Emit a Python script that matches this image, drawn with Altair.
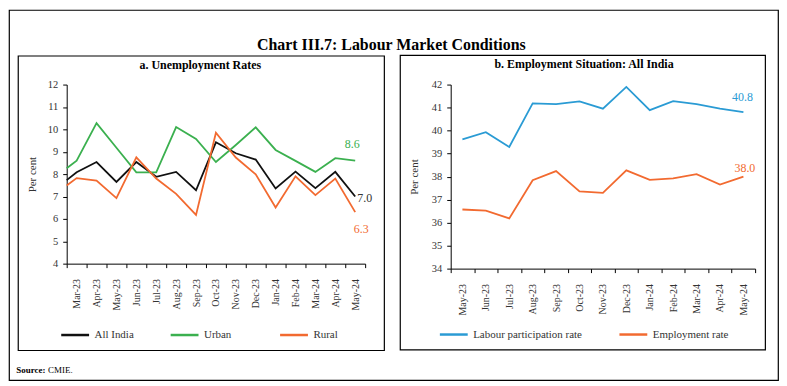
import altair as alt
import pandas as pd

# ---------------- data ----------------
months_a = ["Mar-23", "Apr-23", "May-23", "Jun-23", "Jul-23", "Aug-23", "Sep-23", "Oct-23",
            "Nov-23", "Dec-23", "Jan-24", "Feb-24", "Mar-24", "Apr-24", "May-24"]
series_a = ["All India", "Urban", "Rural"]
start_a = [7.73, 8.26, 7.49]  # first point, drawn at the left edge of the axis
all_india = [8.08, 8.54, 7.65, 8.54, 7.88, 8.10, 7.28, 9.42, 8.93, 8.65, 7.36, 8.11, 7.37, 8.10, 7.0]
urban = [8.60, 10.28, 9.18, 8.08, 8.08, 10.10, 9.57, 8.54, 9.30, 10.09, 9.08, 8.59, 8.10, 8.71, 8.6]
rural = [7.82, 7.71, 6.93, 8.75, 7.80, 7.12, 6.18, 9.85, 8.74, 7.99, 6.51, 7.90, 7.06, 7.80, 6.3]

months_b = ["May-23", "Jun-23", "Jul-23", "Aug-23", "Sep-23", "Oct-23", "Nov-23", "Dec-23",
            "Jan-24", "Feb-24", "Mar-24", "Apr-24", "May-24"]
series_b = ["Labour participation rate", "Employment rate"]
lpr = [39.62, 39.93, 39.29, 41.18, 41.15, 41.27, 40.95, 41.90, 40.89, 41.28, 41.15, 40.95, 40.8]
emp = [36.57, 36.52, 36.18, 37.84, 38.24, 37.36, 37.29, 38.27, 37.86, 37.92, 38.11, 37.65, 38.0]

FONT = "Liberation Serif"
BLACK, GREEN, ORANGE, BLUE = "#111111", "#3bb04f", "#f26a30", "#2a9bd4"
TXT = "#333333"

rows = []
for name, st, vals in zip(series_a, start_a, [all_india, urban, rural]):
    rows.append(dict(idx=-0.5, value=st, series=name, last=False))
    for i, v in enumerate(vals):
        rows.append(dict(idx=i, value=v, series=name, last=(i == len(vals) - 1)))
df_a = pd.DataFrame(rows)

rows = []
for name, vals in zip(series_b, [lpr, emp]):
    for i, v in enumerate(vals):
        rows.append(dict(idx=i, value=v, series=name, last=(i == len(vals) - 1)))
df_b = pd.DataFrame(rows)

one = pd.DataFrame({"k": [0]})


def arr(lst):
    return "[" + ",".join("'" + s + "'" for s in lst) + "]"


def xaxis(months, band):
    n = len(months)
    return alt.Axis(values=[i - 0.5 for i in range(n + 1)],
                    labelExpr=f"datum.value < {n - 1} ? {arr(months)}[round(datum.value + 0.5)] : ''",
                    labelAngle=-90, labelOffset=band / 2, labelPadding=11, tickSize=4,
                    grid=False, title=None, labelOverlap=False, labelFlush=False,
                    labelFont=FONT, labelFontSize=10, labelColor=TXT,
                    domainColor="black", tickColor="black")


def yaxis(lo, hi, tpad):
    return alt.Axis(values=list(range(lo, hi + 1)), title="Per cent", titlePadding=tpad,
                    tickSize=4, labelPadding=5, grid=False,
                    labelFont=FONT, labelFontSize=10.5, labelColor=TXT,
                    titleFont=FONT, titleFontSize=11, titleFontWeight="normal", titleColor=TXT,
                    domainColor="black", tickColor="black")


def legend(lx, ly, cpad):
    return alt.Legend(orient="none", legendX=lx, legendY=ly, direction="horizontal", title=None,
                      symbolType="stroke", symbolSize=784, symbolStrokeWidth=2.5,
                      columnPadding=cpad, gridAlign="all", padding=0, labelOffset=4,
                      labelFont=FONT, labelFontSize=11, labelColor=TXT)


def box(x, x2, y, y2):
    return alt.Chart(one).mark_rect(fillOpacity=0, stroke="black", strokeWidth=1.2).encode(
        x=alt.value(x), x2=alt.value(x2), y=alt.value(y), y2=alt.value(y2))


def text(s, x, y, size, weight="normal", align="center", color="black"):
    return alt.Chart(pd.DataFrame({"t": [s]})).mark_text(
        font=FONT, fontSize=size, fontWeight=weight, align=align, baseline="alphabetic",
        color=color).encode(x=alt.value(x), y=alt.value(y), text="t:N")


# ---------------- panel a ----------------
WA, HA = 300, 180
base_a = alt.Chart(df_a).encode(
    x=alt.X("idx:Q", scale=alt.Scale(domain=[-0.5, 14.5], nice=False, zero=False), axis=xaxis(months_a, 20)),
    y=alt.Y("value:Q", scale=alt.Scale(domain=[4, 12], nice=False, zero=False), axis=yaxis(4, 12, 10)),
)
lines_a = base_a.mark_line(strokeWidth=1.8).encode(
    color=alt.Color("series:N", scale=alt.Scale(domain=series_a, range=[BLACK, GREEN, ORANGE]),
                    legend=legend(-7, 236, 31)))
lab_specs_a = [("Urban", GREEN, "center", -3, -17), ("All India", TXT, "left", 2, 2), ("Rural", ORANGE, "center", 6, 17)]
labs_a = [base_a.transform_filter((alt.datum.series == s) & alt.datum.last).mark_text(
    font=FONT, fontSize=12, color=c, align=al, baseline="middle", dx=dx, dy=dy).encode(
    text=alt.Text("value:Q", format=".1f")) for s, c, al, dx, dy in lab_specs_a]

panel_a = alt.layer(
    box(-57.7, 715.3, -74.7, 297.3),
    box(-48.7, 319.3, -28.7, 267.3),
    text("Chart III.7: Labour Market Conditions", 326.3, -34.7, 16, "bold"),
    text("a. Unemployment Rates", 134.3, -15.7, 12, "bold"),
    text("Source:", -50.7, 289.8, 9, "bold", "left"),
    text("CMIE.", -18.7, 289.8, 9, "normal", "left"),
    lines_a, *labs_a,
).properties(width=WA, height=HA)

# ---------------- panel b ----------------
WB, HB = 306, 185
base_b = alt.Chart(df_b).encode(
    x=alt.X("idx:Q", scale=alt.Scale(domain=[-0.5, 12.5], nice=False, zero=False), axis=xaxis(months_b, 306 / 13)),
    y=alt.Y("value:Q", scale=alt.Scale(domain=[34, 42], nice=False, zero=False), axis=yaxis(34, 42, 12)),
)
lines_b = base_b.mark_line(strokeWidth=1.8).encode(
    color=alt.Color("series:N", scale=alt.Scale(domain=series_b, range=[BLUE, ORANGE]),
                    legend=legend(-12.4, 235.5, 31.5)))
lab_specs_b = [("Labour participation rate", BLUE, -1, -15), ("Employment rate", ORANGE, 1.5, -9)]
labs_b = [base_b.transform_filter((alt.datum.series == s) & alt.datum.last).mark_text(
    font=FONT, fontSize=12, color=c, align="center", baseline="middle", dx=dx, dy=dy).encode(
    text=alt.Text("value:Q", format=".1f")) for s, c, dx, dy in lab_specs_b]

panel_b = alt.layer(
    box(-50.7, 316.3, -29.3, 266.7),
    text("b. Employment Situation: All India", 134, -16.3, 12, "bold"),
    lines_b, *labs_b,
).properties(width=WB, height=HB)

chart = alt.hconcat(panel_a, panel_b, spacing=86, bounds="flush").resolve_scale(
    color="independent").resolve_legend(color="independent").properties(
    padding=0, background="white").configure_view(stroke=None)

chart.save("out.html", embed_options={"renderer": "svg", "actions": False})
